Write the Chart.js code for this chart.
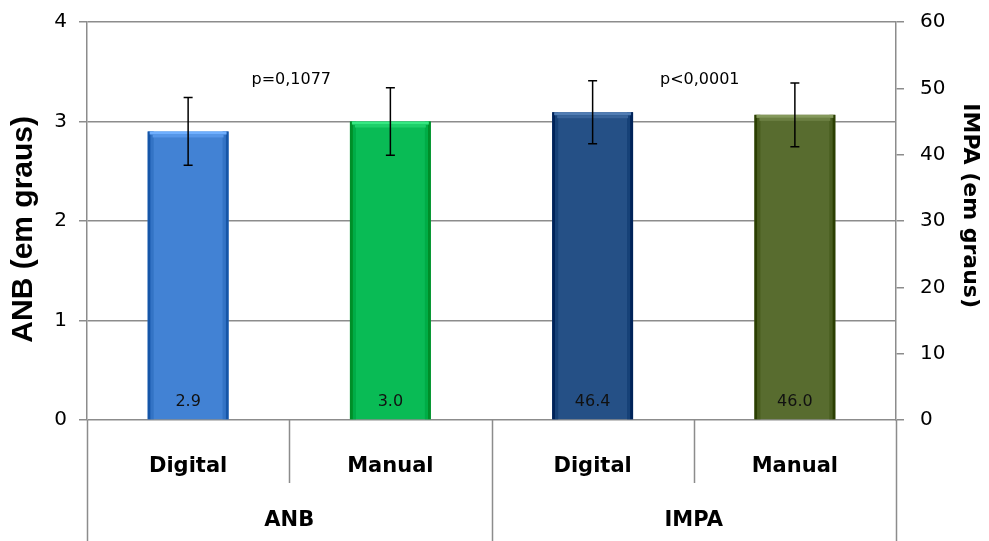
<!DOCTYPE html>
<html>
<head>
<meta charset="utf-8">
<script src="https://cdn.jsdelivr.net/npm/chart.js@4.4.1/dist/chart.umd.min.js"></script>
<style>
  html, body { margin: 0; padding: 0; background: #fff; }
  #wrap { width: 989px; height: 541px; }
</style>
</head>
<body>
<div id="wrap"><canvas id="chart" width="989" height="541"></canvas></div>
<script>
// values
const categories = ['Digital', 'Manual', 'Digital', 'Manual']
const groups = ['ANB', 'IMPA']
const anbValues = [2.9, 3.0, null, null]
const impaValues = [null, null, 46.4, 46.0]
const anbErrors = [0.34, 0.34, null, null]
const impaErrors = [null, null, 4.75, 4.8]
const pLabels = ['p=0,1077', 'p<0,0001']
const barColors = ['#4282D4', '#09BB55', '#255086', '#586C2F']

const FONT = "'DejaVu Sans', Verdana, sans-serif"
const ARIAL = "'Liberation Sans', Arial, sans-serif"
const GRID = '#8c8c8c'

function shade(hex, amt) {
  const n = parseInt(hex.slice(1), 16)
  const f = (c) => Math.max(0, Math.min(255, Math.round(c + amt)))
  return `rgb(${f(n >> 16)}, ${f((n >> 8) & 255)}, ${f(n & 255)})`
}

// error bars, value labels, bevel effect on bars
const barExtras = {
  id: 'barExtras',
  afterDatasetsDraw(chart) {
    const ctx = chart.ctx
    const errs = [anbErrors, impaErrors]
    chart.data.datasets.forEach((ds, di) => {
      const meta = chart.getDatasetMeta(di)
      const scale = chart.scales[ds.yAxisID]
      meta.data.forEach((bar, i) => {
        const v = ds.data[i]
        if (v == null) return
        const left = bar.x - bar.width / 2
        const right = bar.x + bar.width / 2
        const col = barColors[i]

        // bevel: darker sides, lighter top band
        ctx.save()
        ctx.fillStyle = shade(col, -45)
        ctx.fillRect(left, bar.y, 3, bar.base - bar.y)
        ctx.fillRect(right - 3, bar.y, 3, bar.base - bar.y)
        ctx.fillStyle = shade(col, -15)
        ctx.fillRect(left + 3, bar.y, 3, bar.base - bar.y)
        ctx.fillRect(right - 6, bar.y, 3, bar.base - bar.y)
        ctx.fillStyle = shade(col, 45)
        ctx.fillRect(left + 2, bar.y, bar.width - 4, 3)
        ctx.fillStyle = shade(col, 20)
        ctx.fillRect(left + 5, bar.y + 3, bar.width - 10, 3)
        ctx.restore()

        // value label inside the bar bottom
        ctx.save()
        ctx.font = `16px ${FONT}`
        ctx.fillStyle = '#111'
        ctx.textAlign = 'center'
        ctx.textBaseline = 'middle'
        ctx.fillText(v.toFixed(1), bar.x, bar.base - 17)
        ctx.restore()

        // error bar
        const e = errs[di][i]
        if (e == null) return
        const yTop = scale.getPixelForValue(v + e)
        const yBot = scale.getPixelForValue(v - e)
        ctx.save()
        ctx.strokeStyle = '#000'
        ctx.lineWidth = 1.5
        ctx.beginPath()
        ctx.moveTo(bar.x, yTop)
        ctx.lineTo(bar.x, yBot)
        ctx.moveTo(bar.x - 4.5, yTop)
        ctx.lineTo(bar.x + 4.5, yTop)
        ctx.moveTo(bar.x - 4.5, yBot)
        ctx.lineTo(bar.x + 4.5, yBot)
        ctx.stroke()
        ctx.restore()
      })
    })
  },
  afterDraw(chart) {
    const ctx = chart.ctx
    const x = chart.scales.x
    const area = chart.chartArea
    const step = (area.right - area.left) / categories.length
    const bottom = chart.height

    // multi-level category dividers
    ctx.save()
    ctx.strokeStyle = GRID
    ctx.lineWidth = 1.5
    ctx.beginPath()
    for (let i = 0; i <= categories.length; i++) {
      const px = Math.round(area.left + i * step) + 0.5
      const full = i % 2 === 0
      ctx.moveTo(px, area.bottom)
      ctx.lineTo(px, full ? bottom : area.bottom + 63)
    }
    ctx.stroke()
    ctx.restore()

    // group labels and p-values
    const anb = chart.scales.y
    ctx.save()
    ctx.fillStyle = '#000'
    ctx.textAlign = 'center'
    ctx.textBaseline = 'middle'
    groups.forEach((g, gi) => {
      const cx = (x.getPixelForValue(gi * 2) + x.getPixelForValue(gi * 2 + 1)) / 2
      ctx.font = `bold 21px ${FONT}`
      ctx.fillText(g, cx, area.bottom + 101)
      ctx.font = `16px ${FONT}`
      ctx.fillText(pLabels[gi], cx + (gi === 1 ? 6 : 2), anb.getPixelForValue(3.42))
    })
    ctx.restore()
  }
}

// fix the axis boxes so the plot area lands where it does in the reference
const fitY = (w) => (s) => {
  s.width = w
  s.paddingTop = 0
  s.paddingBottom = 0
}

new Chart(document.getElementById('chart'), {
  type: 'bar',
  data: {
    labels: categories,
    datasets: [
      {
        label: 'ANB',
        data: anbValues,
        yAxisID: 'y',
        backgroundColor: barColors,
        grouped: false,
        categoryPercentage: 1,
        barPercentage: 0.4
      },
      {
        label: 'IMPA',
        data: impaValues,
        yAxisID: 'y1',
        backgroundColor: barColors,
        grouped: false,
        categoryPercentage: 1,
        barPercentage: 0.4
      }
    ]
  },
  options: {
    responsive: false,
    animation: false,
    devicePixelRatio: 1,
    layout: { padding: { top: 22 } },
    plugins: {
      legend: { display: false },
      tooltip: { enabled: false }
    },
    scales: {
      x: {
        offset: true,
        grid: { display: false },
        border: { display: false },
        ticks: {
          color: '#000',
          padding: 26,
          font: { family: FONT, size: 21, weight: 'bold' }
        },
        afterFit: (s) => { s.height = 121 }
      },
      y: {
        position: 'left',
        min: 0,
        max: 4,
        ticks: {
          stepSize: 1,
          color: '#000',
          padding: 12,
          font: { family: FONT, size: 20 }
        },
        grid: { color: GRID, lineWidth: 1.5, tickLength: 8 },
        border: { color: GRID, width: 1.5 },
        title: {
          display: true,
          // trailing space nudges the rotated title down a little, as in the reference
          text: 'ANB (em graus)  ',
          color: '#000',
          padding: { top: 6, bottom: 0 },
          font: { family: ARIAL, size: 30, weight: 'bold' }
        },
        afterFit: fitY(87)
      },
      y1: {
        position: 'right',
        min: 0,
        max: 60,
        ticks: {
          stepSize: 10,
          color: '#000',
          padding: 16,
          font: { family: FONT, size: 20 }
        },
        grid: { drawOnChartArea: false, color: GRID, lineWidth: 1.5, tickLength: 8 },
        border: { color: GRID, width: 1.5 },
        title: {
          display: true,
          // trailing spaces move the title up, it sits above centre in the reference
          text: 'IMPA (em graus)    ',
          color: '#000',
          padding: { top: 6, bottom: 0 },
          font: { family: FONT, size: 22, weight: 'bold' }
        },
        afterFit: fitY(93)
      }
    }
  },
  plugins: [barExtras]
})
</script>
</body>
</html>
